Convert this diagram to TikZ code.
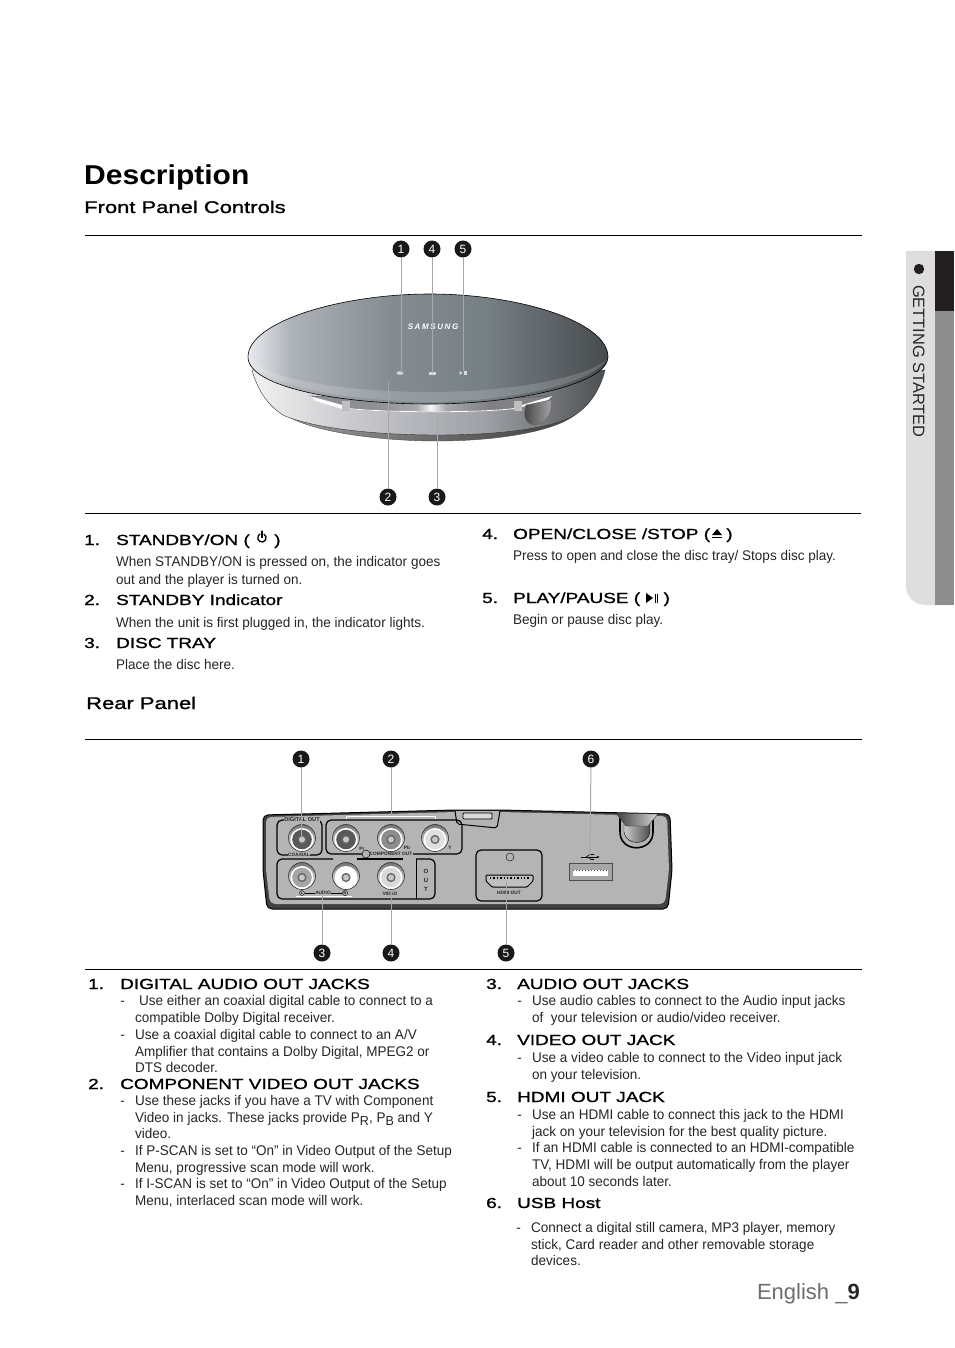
\documentclass[tikz,border=0pt]{standalone}
\usepackage{fontspec}
\setmainfont{Liberation Sans}
\newfontfamily\widefont[FakeStretch=1.3,FakeBold=1.2]{Liberation Sans}
\newfontfamily\titlefont[FakeStretch=1.1]{Liberation Sans}
\newfontfamily\bodyfont[FakeStretch=0.965]{Liberation Sans}
\usetikzlibrary{arrows.meta,positioning,fit,calc}
\definecolor{tabgray}{HTML}{DEDEDE}
\definecolor{tabdark}{HTML}{8F8D8D}
\definecolor{tabblack}{HTML}{231F20}
\definecolor{panelgray}{HTML}{B4B4B4}
\definecolor{leadergray}{HTML}{A6A8AB}
\definecolor{footgray}{HTML}{6D6E71}
\pgfdeclarehorizontalshading{discface}{100bp}{rgb(0bp)=(.92,.92,.94); rgb(25bp)=(.92,.92,.94); rgb(31bp)=(.68,.70,.72); rgb(45bp)=(.52,.55,.57); rgb(58bp)=(.46,.50,.52); rgb(68bp)=(.36,.38,.40); rgb(75bp)=(.27,.29,.30); rgb(100bp)=(.27,.29,.30)}
\pgfdeclarehorizontalshading{bodyface}{100bp}{rgb(0bp)=(.95,.95,.95); rgb(25bp)=(.95,.95,.95); rgb(40bp)=(.78,.78,.80); rgb(58bp)=(.62,.63,.65); rgb(75bp)=(.30,.31,.32); rgb(100bp)=(.30,.31,.32)}
\pgfdeclarehorizontalshading{trayface}{100bp}{rgb(0bp)=(.55,.56,.58); rgb(38bp)=(.55,.56,.58); rgb(47bp)=(.66,.66,.68); rgb(50bp)=(.97,.97,.97); rgb(53bp)=(.66,.66,.68); rgb(62bp)=(.5,.5,.52); rgb(100bp)=(.5,.5,.52)}
\pgfdeclarehorizontalshading{baseface}{100bp}{rgb(0bp)=(.62,.62,.62); rgb(25bp)=(.62,.62,.62); rgb(50bp)=(.42,.42,.42); rgb(75bp)=(.25,.25,.25); rgb(100bp)=(.25,.25,.25)}
\newcommand\dashmark{\llap{-\hspace{10.3pt}}}
\newcommand\subletter[1]{\raisebox{-3pt}{\fontsize{13}{13}\selectfont #1}}

\begin{document}
\begin{tikzpicture}[
  x=1pt, y=-1pt,
  title/.style={anchor=base west, inner sep=0pt, font=\titlefont\bfseries\fontsize{27.3}{30}\selectfont},
  subhead/.style={anchor=base west, inner sep=0pt, font=\widefont\fontsize{16.9}{18}\selectfont},
  itemhead/.style={anchor=base west, inner sep=0pt, font=\widefont\fontsize{14.6}{18}\selectfont},
  bodytext/.style={anchor=north west, inner sep=0pt, align=left, font=\bodyfont\fontsize{14}{16.7}\selectfont, color=black!85},
  rule/.style={draw=black, line width=0.8pt},
  callout/.style={circle, fill=black!90, text=white, inner sep=0pt, minimum size=17pt, font=\fontsize{12}{12}\selectfont},
  leader/.style={draw=leadergray, line width=1pt},
  panelbox/.style={draw=black, line width=1.2pt, rounded corners=5pt},
  tinylabel/.style={inner sep=0.4pt, font=\bfseries\fontsize{4.8}{5}\selectfont, text=black!85},
  jack/.style={circle, minimum size=27pt, inner sep=0pt, draw=black!80, line width=0.6pt, top color=black!55, bottom color=white,
    path picture={
      \coordinate (jackmid) at ($(path picture bounding box.center)+(0,1.5)$);
      \fill[white] (jackmid) circle (11.5pt);
      \fill[#1] (jackmid) circle (9.8pt);
      \fill[black!60] (jackmid) circle (4.6pt);
      \fill[black!22] (jackmid) circle (3pt);}}
]
\useasboundingbox (0,0) rectangle (954,1348);
\fill[white] (0,0) rectangle (954,1348);

\node[title] (description) at (84,185) {Description};
\node[subhead] (frontpanel) at (84,213) {Front Panel Controls};
\coordinate (fronttopl) at (85,235.6);
\coordinate (fronttopr) at (862,235.6);
\coordinate (frontbotl) at (85,513.6);
\coordinate (frontbotr) at (861,513.6);
\draw[rule] (fronttopl) -- (fronttopr);
\draw[rule] (frontbotl) -- (frontbotr);

% side tab
\fill[tabgray] (906,251) -- (954,251) -- (954,605) -- (927,605) .. controls (914,605) and (906,597) .. (906,585) -- cycle;
\fill[tabdark] (935,311) rectangle (954,605);
\fill[tabblack] (935,251) rectangle (954,311);
\fill[tabblack] (919,269) circle (5.2pt);
\node[rotate=-90, anchor=base west, inner sep=0pt, font=\fontsize{16.4}{18}\selectfont, text=black!85] (sidetab) at (913,285) {GETTING STARTED};

% front unit
\shade[shading=baseface, draw=black!70, line width=0.4pt] (284,414) .. controls (310,432) and (380,441) .. (437,441) .. controls (495,441) and (555,432) .. (576,414) -- cycle;
\shade[shading=bodyface, draw=black!80, line width=0.4pt] (252,370) .. controls (258,392) and (270,408) .. (285,416) .. controls (320,430) and (385,435) .. (437,435) .. controls (490,435) and (550,430) .. (575,415) .. controls (590,405) and (600,390) .. (605,370) -- cycle;
\shade[shading=trayface, draw=black!70, line width=0.4pt] (310,396) -- (345,408) .. controls (380,413) and (490,413) .. (517,408) -- (552,396) -- (430,402) -- cycle;
\draw[white, line width=0.8pt] (345,408) .. controls (380,413) and (490,413) .. (517,408);
\fill[white] (310,396) -- (342,405) -- (342,409) -- (316,401) -- cycle;
\fill[white] (552,396) -- (522,405) -- (522,407) -- (548,400) -- cycle;
\fill[black!25] (342,401) rectangle (350,411);
\fill[black!25] (514,401) rectangle (522,411);
\shade[left color=black!75, right color=black!35, draw=black!60, line width=0.3pt] (526,405) -- (551,400) .. controls (552,412) and (548,423) .. (535,425) .. controls (527,425) and (522,418) .. (526,405) -- cycle;
\shade[shading=discface, draw=black, line width=0.6pt] (248,357) .. controls (248,322) and (340,294) .. (430,294) .. controls (520,294) and (608,322) .. (608,357) .. controls (608,383) and (520,404) .. (430,404) .. controls (340,404) and (248,387) .. (248,357) -- cycle;
\fill[white, opacity=0.16] (250,360) .. controls (270,390) and (360,401) .. (430,402) .. controls (510,401) and (590,385) .. (606,360) .. controls (585,378) and (510,392) .. (430,392) .. controls (350,392) and (270,380) .. (250,360) -- cycle;
\node[inner sep=0pt, text=white, font=\bfseries\itshape\fontsize{8}{8}\selectfont] (samsung) at (433,327) {S\hspace{1.6pt}A\hspace{1.6pt}M\hspace{1.6pt}S\hspace{1.6pt}U\hspace{1.6pt}N\hspace{1.6pt}G};
\coordinate (powerkey) at (400,373);
\coordinate (stoplamp) at (388,381);
\coordinate (traymark) at (437,413);
\coordinate (ejectkey) at (432,373);
\coordinate (playkey) at (463,371);
\fill[white!85!black] (powerkey) ellipse (3.5pt and 1.8pt);
\fill[white!85!black] ($(ejectkey)+(-3.5,-1)$) rectangle ($(ejectkey)+(3.5,1.5)$);
\fill[white!85!black] ($(playkey)+(-3.5,0)$) -- ($(playkey)+(-0.5,2)$) -- ($(playkey)+(-3.5,4)$) -- cycle;
\fill[white!85!black] ($(playkey)+(0.5,0)$) rectangle ($(playkey)+(3.5,4)$);

\node[callout] (fnum1) at (401,249) {1};
\node[callout] (fnum4) at (432,249) {4};
\node[callout] (fnum5) at (463,249) {5};
\node[callout] (fnum2) at (388,497) {2};
\node[callout] (fnum3) at (437,497) {3};
\draw[leader] (fnum1) -- (fnum1 |- powerkey);
\draw[leader] (fnum4) -- (ejectkey);
\draw[leader] (fnum5) -- (playkey);
\draw[leader] (fnum2) -- (stoplamp);
\draw[leader] (fnum3) -- (traymark);

% front panel text
\node[itemhead] (fitem1) at (84,545) {1.};
\node[itemhead] (fhead1) at (116,545) {STANDBY/ON ( \hspace{14pt} )};
\draw[line width=1.3pt, line cap=round] (264,534.2) arc[start angle=-60, end angle=240, radius=4.2];
\draw[line width=1.3pt, line cap=round] (262,531) -- (262,537.5);
\node[bodytext] (ftext1) at (116,556) {When STANDBY/ON is pressed on, the indicator goes\\[1.4pt]out and the player is turned on.};
\node[itemhead] (fitem2) at (84,605) {2.};
\node[itemhead] (fhead2) at (116,605) {STANDBY Indicator};
\node[bodytext] (ftext2) at (116,617) {When the unit is first plugged in, the indicator lights.};
\node[itemhead] (fitem3) at (84,648) {3.};
\node[itemhead] (fhead3) at (116,648) {DISC TRAY};
\node[bodytext] (ftext3) at (116,659) {Place the disc here.};
\node[itemhead] (fitem4) at (482,539) {4.};
\node[itemhead] (fhead4) at (513,539) {OPEN/CLOSE /STOP ( \hspace{11pt})};
\fill (717,529) -- (722,535) -- (712,535) -- cycle;
\fill (712,536.5) rectangle (722,538);
\node[bodytext] (ftext4) at (513,550) {Press to open and close the disc tray/ Stops disc play.};
\node[itemhead] (fitem5) at (482,603) {5.};
\node[itemhead] (fhead5) at (513,603) {PLAY/PAUSE ( \hspace{13pt} )};
\fill (646,593) -- (653,598) -- (646,603) -- cycle;
\fill (654.5,593.5) rectangle (655.5,602.5);
\fill (657,593.5) rectangle (658,602.5);
\node[bodytext] (ftext5) at (513,614) {Begin or pause disc play.};

\node[subhead] (rearpanel) at (86,709) {Rear Panel};
\coordinate (reartopl) at (85,739.6);
\coordinate (reartopr) at (862,739.6);
\coordinate (rearbotl) at (85,969);
\coordinate (rearbotr) at (862,969);
\draw[rule] (reartopl) -- (reartopr);
\draw[rule] (rearbotl) -- (rearbotr);

% rear unit
\draw[draw=black, fill=black!75, line width=1pt, rounded corners=5pt] (263,815) -- (455,810) -- (500,810) -- (670,814) -- (672,870) -- (668,909) -- (267,909) -- (263,870) -- cycle;
\fill[panelgray, rounded corners=5pt] (266,817) -- (456,812) -- (500,812) -- (667,816) -- (669,870) -- (665,904) -- (270,904) -- (266,870) -- cycle;
\draw[draw=black, fill=panelgray, line width=1pt, rounded corners=2pt] (455,811) -- (457,824) -- (497,828) -- (500,811);
\draw[draw=black, fill=black!15, line width=0.8pt, rounded corners=1pt] (463,813) rectangle (492,819);
\draw[panelbox] (322,826) -- (322,855) -- (277,855) -- (277,820) -- (322,820) -- (322,830);
\draw[panelbox] (326,820) rectangle (462,854);
\draw[panelbox] (333,859) -- (277,859) -- (277,899) -- (435,899) -- (435,859) -- (416,859);
\draw[draw=black, line width=1.2pt] (357,859) -- (403,859);
\draw[draw=black, line width=1pt] (416,859) -- (416,899);
\draw[panelbox] (476,850) rectangle (542,901);

\node[jack=black!65] (coaxial) at (302,838) {};
\node[jack=black!65] (jackpr) at (346,838) {};
\node[jack=black!45] (jackpb) at (391,838) {};
\node[jack=black!12] (jacky) at (435,838) {};
\node[jack=black!35] (jackl) at (302,876) {};
\node[jack=white] (jackr) at (346,876) {};
\node[jack=black!15] (jackvideo) at (391,876) {};

\node[tinylabel, fill=panelgray, font=\bfseries\fontsize{5.6}{6}\selectfont] (digilabel) at (302,820) {DIGITAL OUT};
\node[tinylabel, fill=panelgray] (coaxlabel) at (299,855) {COAXIAL};
\node[tinylabel, fill=panelgray] (complabel) at (391,854) {COMPONENT OUT};
\node[tinylabel] (prlabel) at (362,849) {Pr};
\node[tinylabel] (pblabel) at (407,848) {Pb};
\node[tinylabel] (ylabel) at (450,848) {Y};
\node[tinylabel] (audiolabel) at (323,893) {AUDIO};
\node[tinylabel] (videolabel) at (390,894) {VIDEO};
\node[tinylabel, font=\bfseries\fontsize{6}{9}\selectfont, align=center] (outlabel) at (426,880) {O\\U\\T};
\node[draw=black, circle, inner sep=0.6pt, fill=panelgray, font=\bfseries\fontsize{3.5}{4}\selectfont] (lmark) at (302,893) {L};
\node[draw=black, circle, inner sep=0.6pt, fill=panelgray, font=\bfseries\fontsize{3.5}{4}\selectfont] (rmark) at (345,893) {R};
\draw[line width=0.6pt] (lmark) -- (audiolabel);
\draw[line width=0.6pt] (rmark) -- (audiolabel);
\node[draw=black, circle, minimum size=8pt, inner sep=0pt, fill=panelgray, line width=0.5pt] (comphole) at (366,854) {};
\node[draw=black, circle, minimum size=8pt, inner sep=0pt, line width=0.4pt] (hdmihole) at (510,857) {};
\draw[draw=black, fill=black!25, line width=1pt, rounded corners=1pt] (486,875) -- (533,875) -- (533,881) -- (527,887) -- (492,887) -- (486,881) -- cycle;
\draw[black, line width=1.4pt, dotted] (490,878) -- (529,878);
\node[tinylabel] (hdmilabel) at (509,893) {HDMI OUT};
\draw[draw=black!70, fill=black!35, line width=0.8pt] (569,863) rectangle (612,880);
\fill[white] (573,870) rectangle (608,876);
\draw[black!70, dotted, line width=1pt] (573,870.5) -- (608,870.5);
\coordinate (usbmark) at (590,857);
\draw[line width=0.8pt, -{Latex[length=3pt]}] (581,857) -- (600,857);
\draw[line width=0.6pt] (586,857) -- (590,854.5) -- (594,854.5);
\draw[line width=0.6pt] (588,857) -- (591,859.5) -- (594,859.5);
\draw[draw=black, fill=panelgray, line width=1.6pt] (620,818) -- (620,832) .. controls (620,853) and (653,853) .. (653,832) -- (653,818);
\shade[left color=black!20, right color=black!70, draw=black, line width=0.4pt] (624,820) -- (624,832) .. controls (626,846) and (648,846) .. (650,832) -- (650,820) -- cycle;
\shade[left color=black!75, right color=black!15, draw=black!80, line width=0.4pt] (616,813) -- (658,814) -- (648,826) -- (626,826) -- cycle;

\coordinate (bracket2) at (391,816);
\coordinate (bracket3) at (322,896);
\draw[white, line width=1pt] (346,819) -- (346,816) -- (435,816) -- (435,819);
\draw[white, line width=1pt] (296,896) -- (352,896);

\node[callout] (rnum1) at (301,759) {1};
\node[callout] (rnum2) at (391,759) {2};
\node[callout] (rnum6) at (591,759) {6};
\node[callout] (rnum3) at (322,953) {3};
\node[callout] (rnum4) at (391,953) {4};
\node[callout] (rnum5) at (506,953) {5};
\draw[leader] (rnum1) -- (rnum1 |- coaxial);
\draw[leader] (rnum2) -- (bracket2);
\draw[leader] (rnum6) -- (usbmark);
\draw[leader] (rnum3) -- (bracket3);
\draw[leader] (rnum4) -- (jackvideo);
\draw[leader] (rnum5) -- (rnum5 |- 0,881);

% rear panel text, left column
\node[itemhead] (ritem1) at (88,989) {1.};
\node[itemhead] (rhead1) at (120,989) {DIGITAL AUDIO OUT JACKS};
\node[bodytext] (rtext1a) at (139,995) {\llap{-\hspace{14.3pt}}Use either an coaxial digital cable to connect to a};
\node[bodytext] (rtext1b) at (135,1012) {compatible Dolby Digital receiver.\\[0.3pt]\dashmark Use a coaxial digital cable to connect to an A/V\\Amplifier that contains a Dolby Digital, MPEG2 or\\DTS decoder.};
\node[itemhead] (ritem2) at (88,1089) {2.};
\node[itemhead] (rhead2) at (120,1089) {COMPONENT VIDEO OUT JACKS};
\node[bodytext] (rtext2a) at (135,1095) {\dashmark Use these jacks if you have a TV with Component\\Video in jacks. These jacks provide P\subletter{R}, P\subletter{B} and Y\\video.\\\dashmark If P-SCAN is set to “On” in Video Output of the Setup\\Menu, progressive scan mode will work.\\\dashmark If I-SCAN is set to “On” in Video Output of the Setup\\Menu, interlaced scan mode will work.};

% rear panel text, right column
\node[itemhead] (ritem3) at (486,989) {3.};
\node[itemhead] (rhead3) at (517,989) {AUDIO OUT JACKS};
\node[bodytext] (rtext3) at (532,995) {\dashmark Use audio cables to connect to the Audio input jacks\\of \ your television or audio/video receiver.};
\node[itemhead] (ritem4) at (486,1045) {4.};
\node[itemhead] (rhead4) at (517,1045) {VIDEO OUT JACK};
\node[bodytext] (rtext4) at (532,1052) {\dashmark Use a video cable to connect to the Video input jack\\on your television.};
\node[itemhead] (ritem5) at (486,1102) {5.};
\node[itemhead] (rhead5) at (517,1102) {HDMI OUT JACK};
\node[bodytext] (rtext5) at (532,1109) {\dashmark Use an HDMI cable to connect this jack to the HDMI\\jack on your television for the best quality picture.\\\dashmark If an HDMI cable is connected to an HDMI-compatible\\TV, HDMI will be output automatically from the player\\about 10 seconds later.};
\node[itemhead] (ritem6) at (486,1208) {6.};
\node[itemhead] (rhead6) at (517,1208) {USB Host};
\node[bodytext] (rtext6) at (531,1222) {\dashmark Connect a digital still camera, MP3 player, memory\\stick, Card reader and other removable storage\\devices.};

\node[anchor=base east, inner sep=0pt, text=footgray, font=\fontsize{22}{24}\selectfont] (footer) at (860,1299) {English \_\textcolor{black!85}{\bfseries 9}};
\end{tikzpicture}
\end{document}
